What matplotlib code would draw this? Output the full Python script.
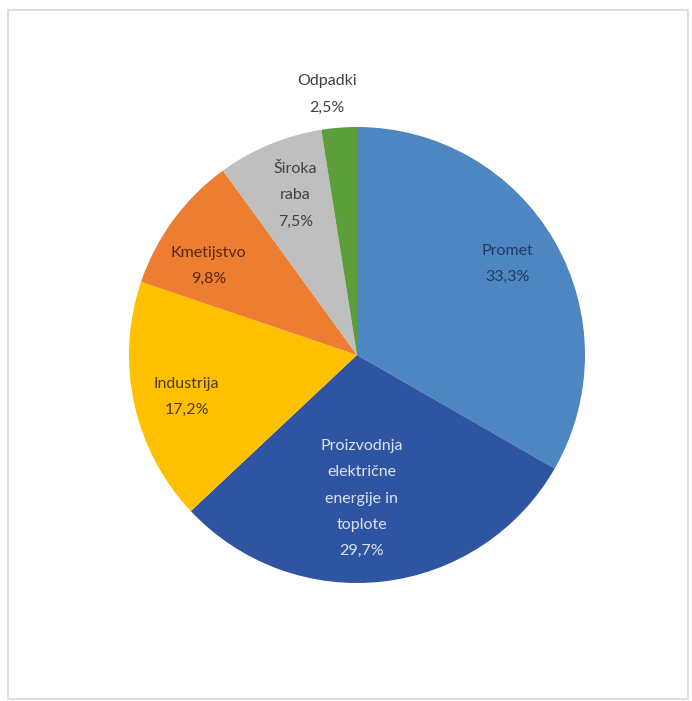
import matplotlib.pyplot as plt
import matplotlib.patches as mpatches
import numpy as np

# Sektorji in deleži (%)
labels = ['Promet', 'Proizvodnja\nelektrične\nenergije in\ntoplote', 'Industrija',
          'Kmetijstvo', 'Široka\nraba', 'Odpadki']
pct_text = ['33,3%', '29,7%', '17,2%', '9,8%', '7,5%', '2,5%']
values = [33.3, 29.7, 17.2, 9.8, 7.5, 2.5]

colors = ['#4e86c1', '#2f55a2', '#ffc000', '#ed7d31', '#bfbfbf', '#5b9e3a']
text_colors = ['#1f3a63', '#dce4f4', '#4f3b00', '#5a2608', '#404040', '#404040']
# label placement: radius fraction and angle nudge (deg) from the wedge middle
label_dist = [0.77, 0.63, 0.77, 0.76, 0.75, 1.15]
label_nudge = [1.2, -4.7, 1.5, 5.5, -1.5, 2.0]

W, H = 692, 701
fig = plt.figure(figsize=(W / 100, H / 100), dpi=100)

# light frame around the chart area
frame = mpatches.Rectangle((8 / W, 1 - 699 / H), 680 / W, 689 / H, transform=fig.transFigure,
                           fill=False, edgecolor='#d9d9d9', linewidth=1.2)
fig.patches.append(frame)

cx, cy, r = 357, 355, 228
ax = fig.add_axes([(cx - r) / W, (H - cy - r) / H, 2 * r / W, 2 * r / H])
wedges, _ = ax.pie(values, colors=colors, startangle=90, counterclock=False,
                   wedgeprops=dict(linewidth=0))
ax.set_xlim(-1, 1)
ax.set_ylim(-1, 1)
ax.set_aspect('equal')
ax.axis('off')

for w, lab, pt, tc, d, nd in zip(wedges, labels, pct_text, text_colors, label_dist, label_nudge):
    ang = np.deg2rad((w.theta1 + w.theta2) / 2 + nd)
    ax.text(d * np.cos(ang), d * np.sin(ang), lab + '\n' + pt, ha='center', va='center',
            fontsize=11.5, color=tc, family='Lato', linespacing=2.1)

fig.savefig('out.png', dpi=100)
